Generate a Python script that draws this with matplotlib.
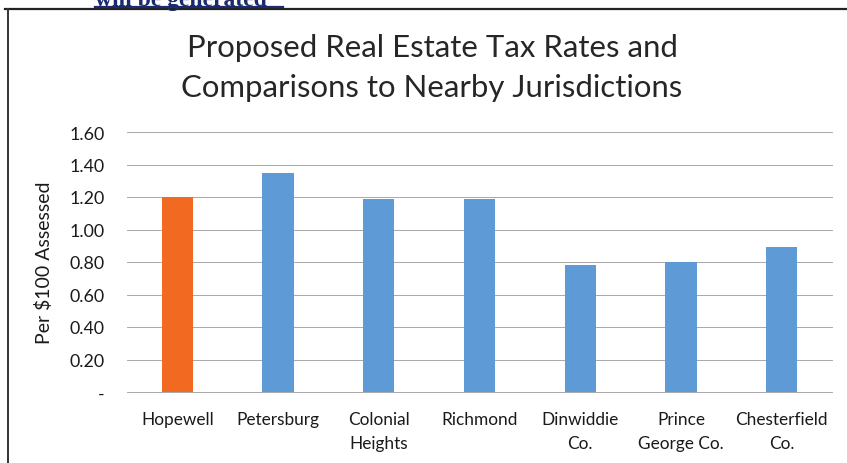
import matplotlib
matplotlib.use("Agg")
import matplotlib.pyplot as plt
from matplotlib.lines import Line2D
from matplotlib.ticker import FuncFormatter

# Real estate tax rates per $100 of assessed value
places = ["Hopewell", "Petersburg", "Colonial\nHeights", "Richmond",
          "Dinwiddie\nCo.", "Prince\nGeorge Co.", "Chesterfield\nCo."]
rates = [1.20, 1.35, 1.19, 1.19, 0.78, 0.80, 0.89]
bar_colors = ["#f26a22"] + ["#5e9bd6"] * 6

plt.rcParams["font.family"] = ["Lato", "DejaVu Sans"]

fig = plt.figure(figsize=(8.47, 4.64), dpi=100)
ax = fig.add_axes([127 / 847, 1 - 393 / 464, 705 / 847, 260 / 464])

x = range(len(places))
ax.bar(x, rates, width=0.31, color=bar_colors, zorder=3)

ax.set_xlim(-0.5, len(places) - 0.5)
ax.set_ylim(0, 1.6)
ax.set_yticks([0, 0.2, 0.4, 0.6, 0.8, 1.0, 1.2, 1.4, 1.6])
ax.yaxis.set_major_formatter(FuncFormatter(lambda v, p: "-" if v == 0 else f"{v:.2f}"))
ax.grid(axis="y", color="#a8a8a8", linewidth=0.7, zorder=0)
for gl in ax.get_ygridlines():
    gl.set_clip_on(False)

ax.set_xticks(list(x))
ax.set_xticklabels(places, fontsize=12.4, color="#1a1a1a", linespacing=1.6)
ax.tick_params(axis="x", length=0, pad=14)
ax.tick_params(axis="y", length=0, pad=16, labelsize=12.8, labelcolor="#1a1a1a")
for s in ax.spines.values():
    s.set_visible(False)

ax.set_ylabel("Per $100 Assessed", fontsize=14, color="#1a1a1a", labelpad=12)

fig.text(432 / 847, 1 - 68 / 464,
         "Proposed Real Estate Tax Rates and\nComparisons to Nearby Jurisdictions",
         ha="center", va="center", fontsize=22.4, color="#262626", linespacing=1.5)

# chart frame
fig.add_artist(Line2D([5 / 847, 1], [1 - 10 / 464] * 2, color="#222222", linewidth=1.6))
fig.add_artist(Line2D([8 / 847] * 2, [0, 1 - 10 / 464], color="#333333", linewidth=1.4))

# heading from the page above, cut off at the top edge
fig.text(95 / 847, 1 - 6 / 464, "will be generated", ha="left", va="baseline",
         fontsize=17, fontweight="bold", family="Liberation Serif", color="#1c2a6e")
fig.add_artist(Line2D([95 / 847, 283 / 847], [1 - 8 / 464] * 2, color="#1c2a6e", linewidth=1.6))

fig.savefig("out.png", dpi=100)
